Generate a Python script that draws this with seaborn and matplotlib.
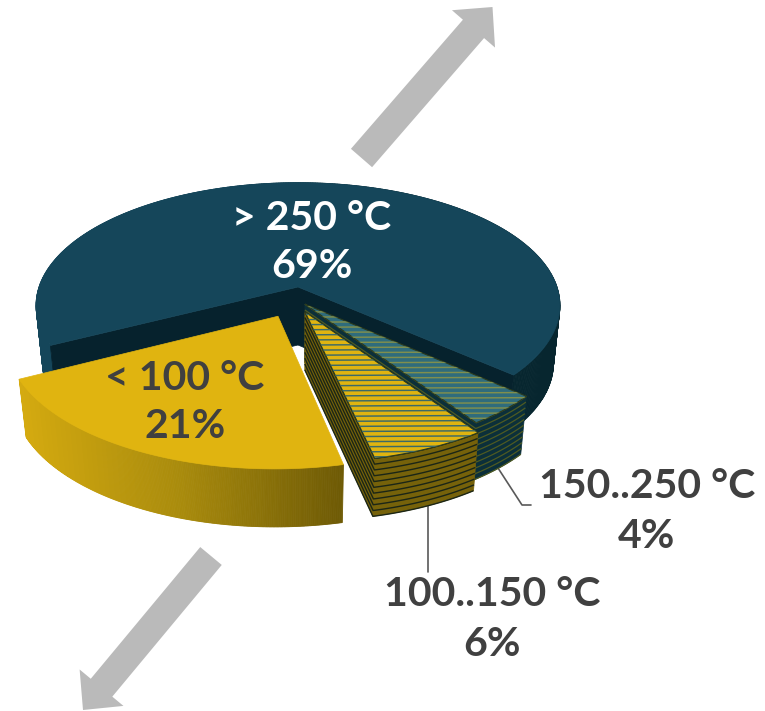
import numpy as np
import matplotlib
matplotlib.use("Agg")
import matplotlib.pyplot as plt
from matplotlib.patches import Polygon, FancyArrow
import seaborn as sns

# Shares of the heat demand by temperature band, in percent
band_labels = ["> 250 °C", "< 100 °C", "100..150 °C", "150..250 °C"]
band_shares = [69, 21, 6, 4]

# Slice styling and placement on the pie plane
START_ANGLE = 318.6 - 360          # degrees, where the largest slice starts
slice_offsets = [(0.0, 0.0), (-0.0745, -0.235), (0.026, -0.20), (0.026, -0.14)]
CX, CY = 298.0, 287.0              # apex of the pie on the canvas
RX, RY = 259.0, 120.0              # plane radii
PERSPECTIVE = 0.15
DEPTH = 58.0
BOTTOM_SCALE = 0.975

TEAL = "#15465a"
TEAL_DARK = "#06222d"
GOLD = "#e0b410"
GREY_ARROW = "#bababa"
TEXT_DARK = "#404040"


def project(px, py):
    """Map points of the pie plane to canvas coordinates."""
    w = 1 + PERSPECTIVE * py
    return CX + RX * px / w, CY - RY * py / w


def lower(x, y, frac=1.0):
    """Move canvas points down the thickness of the pie."""
    s = 1 - (1 - BOTTOM_SCALE) * frac
    return CX + (x - CX) * s, y + DEPTH * frac


def rim(theta0, theta1, offset, n=160):
    t = np.radians(np.linspace(theta0, theta1, n))
    return project(offset[0] + np.cos(t), offset[1] + np.sin(t))


def apex(offset):
    return project(np.array([offset[0]]), np.array([offset[1]]))


def shaded_wall(ax, x, y, colors, z):
    """Outer wall as thin quads tinted left to right."""
    xb, yb = lower(x, y)
    xmin, xmax = x.min(), x.max()
    palette = sns.blend_palette(colors, 64)
    for i in range(len(x) - 1):
        c = palette[int(63 * ((x[i] + x[i + 1]) / 2 - xmin) / max(xmax - xmin, 1))]
        quad = [(x[i], y[i]), (x[i + 1], y[i + 1]), (xb[i + 1], yb[i + 1]), (xb[i], yb[i])]
        ax.add_patch(Polygon(quad, closed=True, fc=c, ec=c, lw=0.6, zorder=z))


def layered_slice(ax, theta0, theta1, offset, face, stripe, wall, wall_line, line_w, radial_wall, z):
    """A slice made of stacked thin layers: striped top, banded walls."""
    xa, ya = apex(offset)
    xr, yr = rim(theta0, theta1, offset, 60)
    # walls: radial side (when it faces the viewer) plus the outer arc
    xp = np.r_[xa, xr] if radial_wall else xr
    yp = np.r_[ya, yr] if radial_wall else yr
    xb, yb = lower(xp, yp)
    ax.add_patch(Polygon(np.c_[np.r_[xp, xb[::-1]], np.r_[yp, yb[::-1]]], closed=True,
                         fc=wall, ec=wall, lw=0.5, zorder=z))
    for k in np.linspace(0, 1, 11):
        lx, ly = lower(xp, yp, k)
        ax.plot(lx, ly, color=wall_line, lw=line_w, solid_capstyle="butt", zorder=z + 0.1)
    # top face with thin horizontal stripes held inside the outline
    outline = np.c_[np.r_[xa, xr], np.r_[ya, yr]]
    top = Polygon(outline, closed=True, fc=face, ec="#2b3a1c", lw=0.8, zorder=z + 0.2)
    ax.add_patch(top)
    x0, x1 = outline[:, 0].min(), outline[:, 0].max()
    for y0 in np.arange(outline[:, 1].min() - 8, outline[:, 1].max() + 8, 5.1):
        line, = ax.plot([x0, x1], [y0 + 0.5, y0 - 0.5], color=stripe, lw=1.05,
                        solid_capstyle="butt", zorder=z + 0.3)
        line.set_clip_path(top)


sns.set_theme(style="white", rc={"font.family": ["Lato", "DejaVu Sans"]})
fig, ax = plt.subplots(figsize=(7.65, 7.11), dpi=100)
fig.subplots_adjust(0, 0, 1, 1)
ax.set_xlim(0, 765)
ax.set_ylim(711, 0)
ax.set_axis_off()
sns.despine(ax=ax, left=True, bottom=True)

# slice boundaries from the shares
spans = np.array(band_shares) / sum(band_shares) * 360
edges = START_ANGLE + np.r_[0, np.cumsum(spans)]

# largest slice: walls first, then the lid on top
t0, t1 = edges[0], edges[1]
x, y = rim(t0, t1, slice_offsets[0], 400)
shaded_wall(ax, x, y, [TEAL, TEAL, "#07262f", "#07262f"], 1)
xa, ya = apex(slice_offsets[0])
for xc, yc in [(x[0], y[0]), (x[-1], y[-1])]:
    px = np.r_[xa, xc]
    py = np.r_[ya, yc]
    xb, yb = lower(px, py)
    ax.add_patch(Polygon(np.c_[np.r_[px, xb[::-1]], np.r_[py, yb[::-1]]], closed=True,
                         fc=TEAL_DARK, ec=TEAL_DARK, lw=0.5, zorder=1.5))
ax.add_patch(Polygon(np.c_[np.r_[xa, x], np.r_[ya, y]], closed=True, fc=TEAL, ec=TEAL, lw=0.5, zorder=2))

# 150..250 °C
layered_slice(ax, edges[3], edges[4], slice_offsets[3], "#2f6c7c", "#7f8f4e",
              "#0b2f3a", "#4e5a22", 0.9, True, 3)
# 100..150 °C
layered_slice(ax, edges[2], edges[3], slice_offsets[2], GOLD, "#3c6a68",
              "#76620a", "#1b2616", 1.0, True, 4)

# < 100 °C
t0, t1 = edges[1], edges[2]
x, y = rim(t0, t1, slice_offsets[1], 300)
shaded_wall(ax, x, y, ["#d4aa10", "#a88a0c", "#6d5905"], 5)
xa, ya = apex(slice_offsets[1])
ax.add_patch(Polygon(np.c_[np.r_[xa, x], np.r_[ya, y]], closed=True, fc=GOLD, ec=GOLD, lw=0.5, zorder=6))

# leader lines
ax.plot([428, 428], [506, 572], color="#595959", lw=1.2, zorder=2.5)
ax.plot([498, 522, 531], [468, 505, 505], color="#595959", lw=1.2, zorder=2.5)

# direction arrows
for (xs, ys), (xe, ye) in [((361.5, 158), (492.5, 7)), ((211, 556), (83, 710))]:
    ax.add_patch(FancyArrow(xs, ys, xe - xs, ye - ys, width=28, head_width=57, head_length=29,
                            length_includes_head=True, fc=GREY_ARROW, ec="none", zorder=1))

# labels
text_style = dict(ha="center", va="center", fontsize=29.5, fontweight="bold", zorder=10)
label_pos = [(312, 219, 267, "white"), (185, 378, 426, TEXT_DARK),
             (492, 594, 644, TEXT_DARK), (647, 486, 536, TEXT_DARK)]
for name, share, (lx, y1, y2, col) in zip(band_labels, band_shares, label_pos):
    ax.text(lx, y1, name, color=col, **text_style)
    ax.text(lx, y2, f"{share}%", color=col, **text_style)

fig.savefig("out.png", dpi=100)
